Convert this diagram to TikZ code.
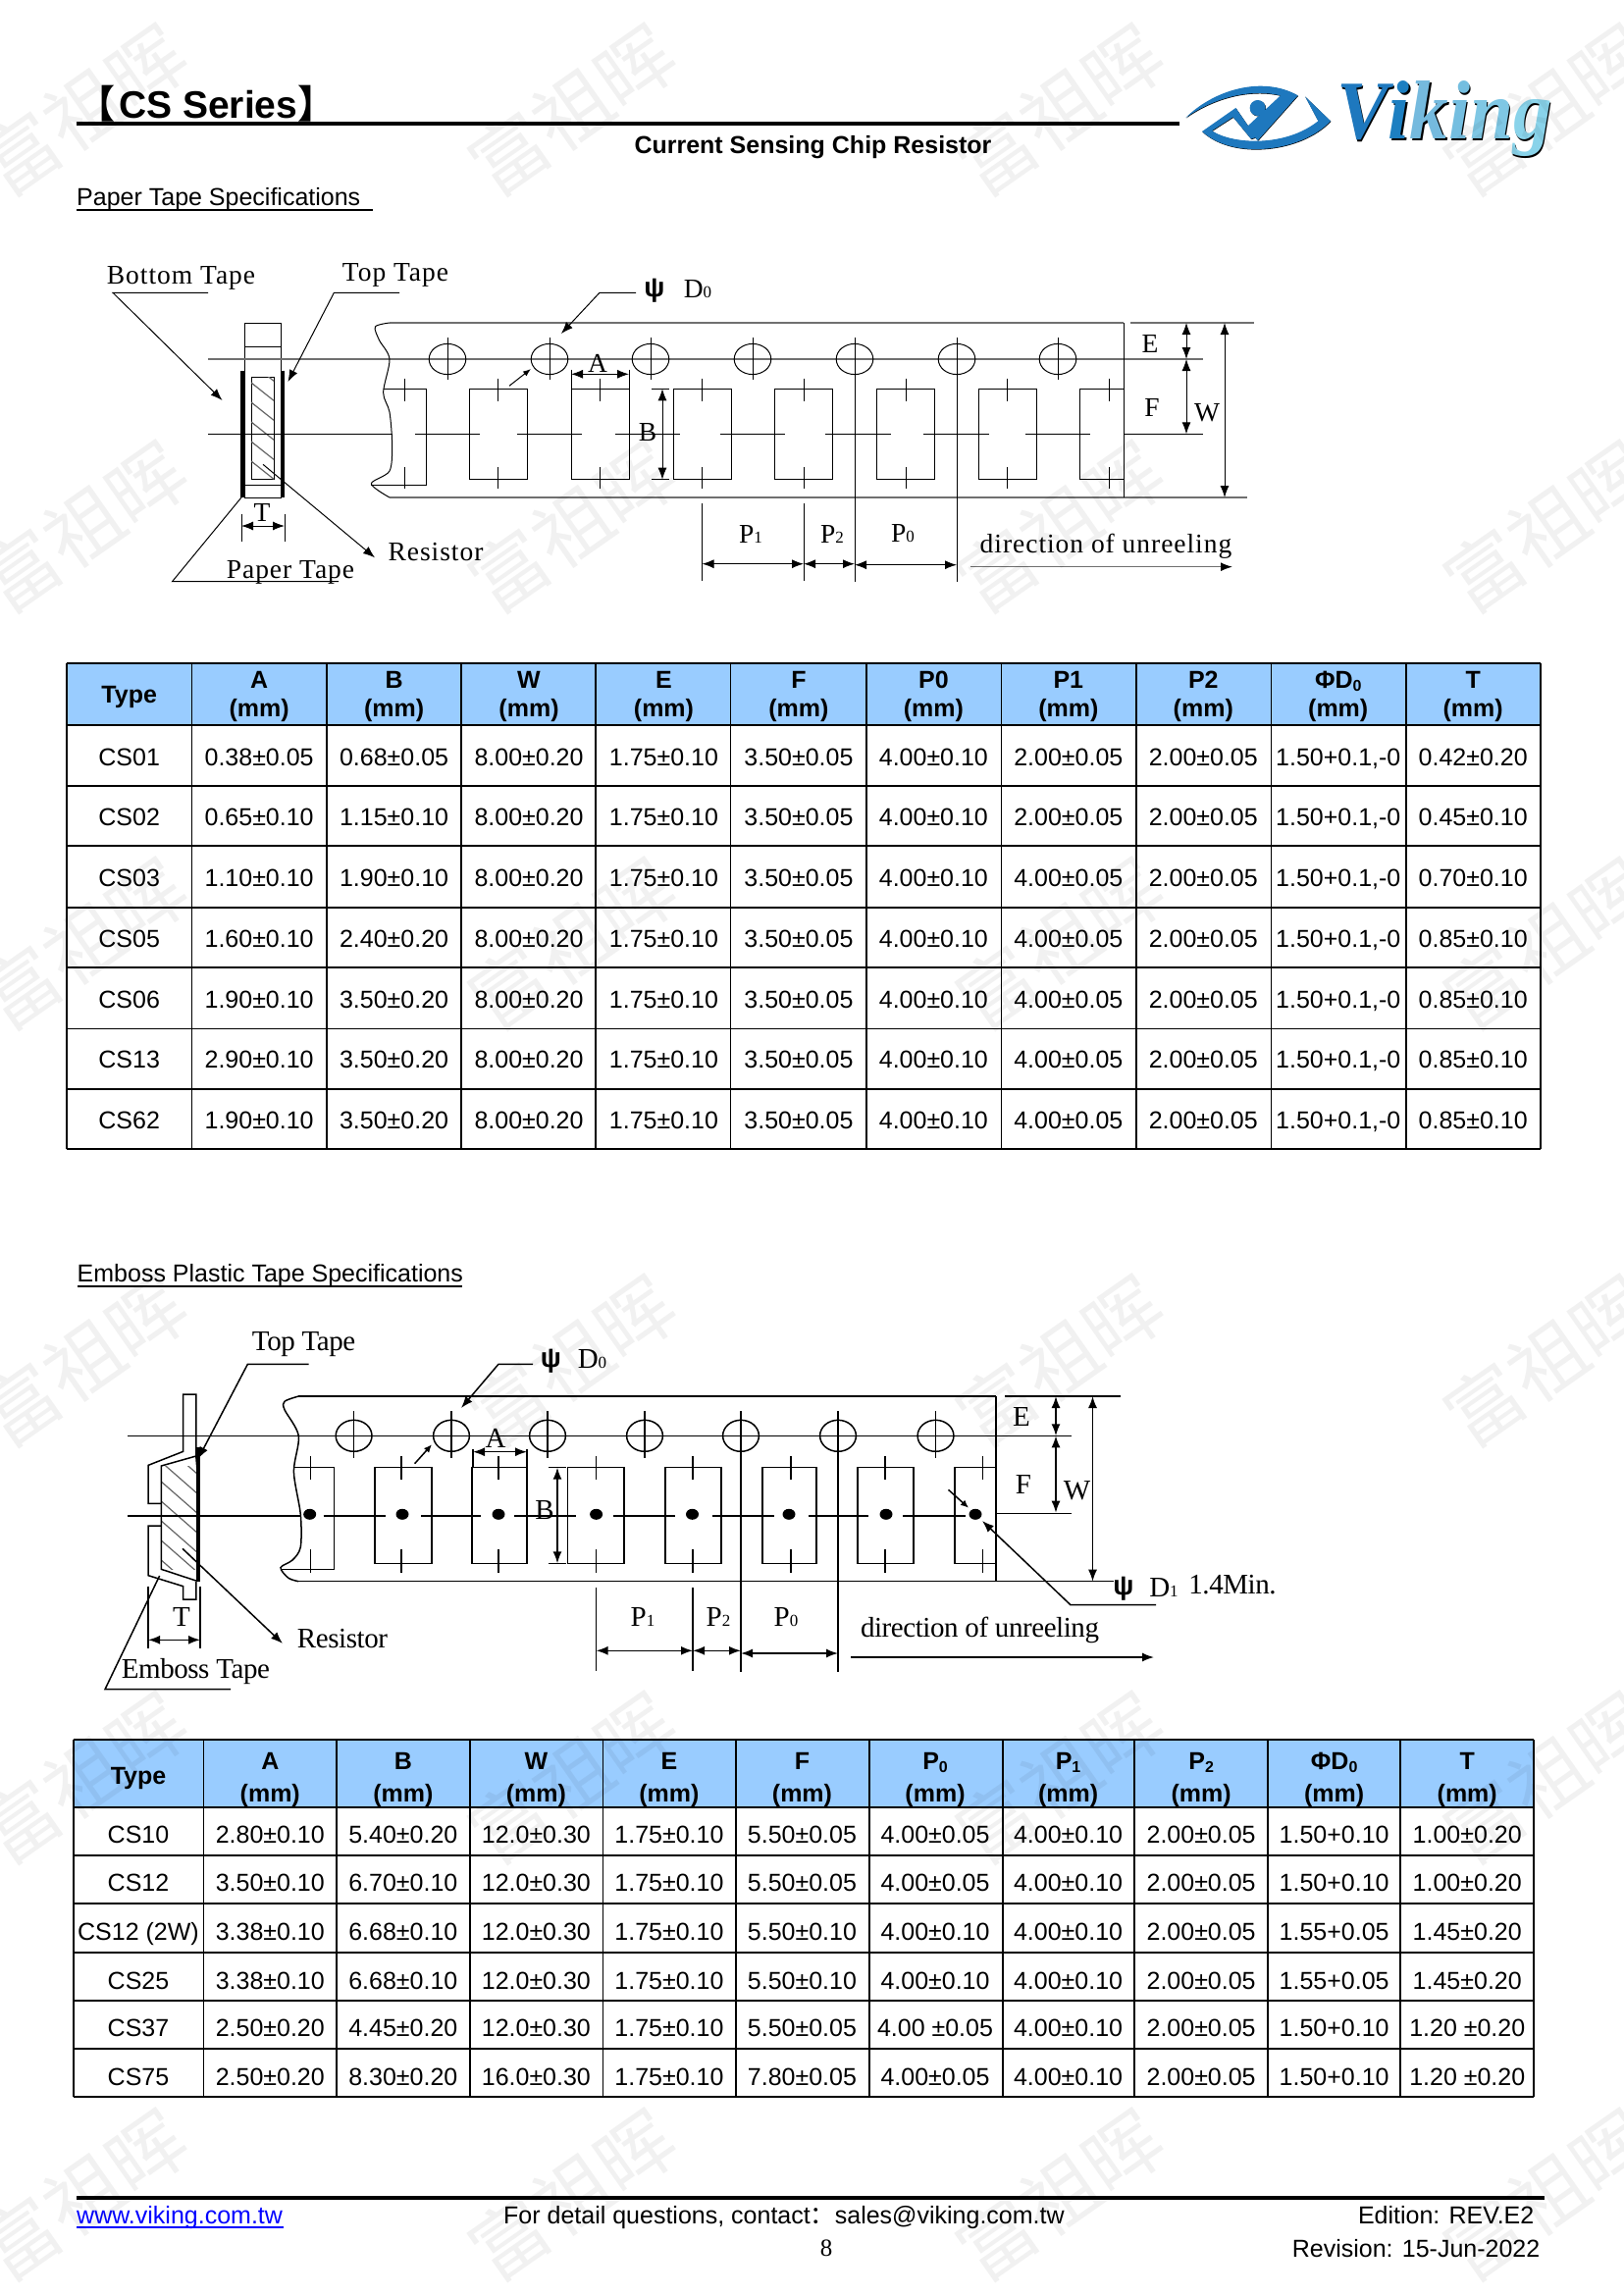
\documentclass[tikz,border=0pt]{standalone}
\usepackage{fontspec}
\setmainfont{Liberation Sans}
\newfontfamily\tapefont[LetterSpace=3.5]{Liberation Serif}
\newfontfamily\embossfont[LetterSpace=-1.5]{Liberation Serif}
\newfontfamily\logofont{Liberation Serif}
\newfontfamily\cjkfont{Noto Sans CJK SC}
\usetikzlibrary{arrows.meta}
\definecolor{headblue}{HTML}{99CCFF}
\definecolor{tapegray}{HTML}{707070}
\definecolor{logoblue}{HTML}{1E78BE}
\newcommand{\subd}[1]{{\fontsize{17}{17}\selectfont #1}}
\newcommand{\subh}[1]{\raisebox{-3pt}{\fontsize{16}{16}\selectfont #1}}
\newcommand{\vikingword}[6]{\textcolor{#1}{V}\textcolor{#2}{i}\textcolor{#3}{k}\textcolor{#4}{i}\textcolor{#5}{n}\textcolor{#6}{g}}
\tikzset{
  >={Latex[length=12pt,width=9pt]},
  every node/.style={inner sep=0pt},
  papertext/.style={font=\tapefont\fontsize{27.5}{30}\selectfont},
  embosstext/.style={font=\embossfont\fontsize{29}{30}\selectfont},
  psimark/.style={font=\bfseries\fontsize{28}{30}\selectfont},
  cellbody/.style={anchor=base,font=\fontsize{25}{30}\selectfont},
  cellhead/.style={align=center,font=\bfseries\fontsize{25}{29}\selectfont},
  cellheadb/.style={align=center,font=\bfseries\fontsize{25}{33}\selectfont},
  plaintext/.style={font=\fontsize{25}{30}\selectfont},
  tapeline/.style={draw=tapegray,line width=1.5pt},
  thinline/.style={draw=black,line width=1pt},
  embline/.style={draw=black,line width=1.5pt},
  hatchline/.style={draw=black!60,line width=1.2pt},
  rulebar/.style={draw=black,line width=4pt},
  tablegrid/.style={draw=black,line width=1.8pt},
}
\begin{document}
\begin{tikzpicture}[x=1pt,y=-1pt]
\useasboundingbox (0,0) rectangle (1654,2339);
\fill[white] (0,0) rectangle (1654,2339);

% page head
\node (series) [anchor=base west,font=\bfseries\fontsize{39}{39}\selectfont] at (78,121) {{\cjkfont\bfseries 【}\hspace{4pt}CS Series{\cjkfont\bfseries 】}};
\draw[rulebar] (78,126) -- (1202,126);
\node (subtitle) [font=\bfseries\fontsize{25}{30}\selectfont] at (828.5,150.5) {Current Sensing Chip Resistor};
\node (papertitle) [plaintext,anchor=base west] at (78,209) {Paper Tape Specifications};
\draw[line width=2pt] (78,213.5) -- (380,213.5);

% logo
\begin{scope}[shift={(1200,60)},x=.3333pt,y=-.3333pt]
\foreach \dx/\dy/\col in {4/5/black,0/0/logoblue}{
\begin{scope}[shift={(\dx*.3333,\dy*.3333)}]
\fill[\col] (25,180) .. controls (110,95) and (260,50) .. (368,112) -- (245,250) -- (212,208) -- (315,112) .. controls (220,90) and (110,120) .. (25,180) -- cycle;
\fill[\col] (75,222) -- (178,150) -- (240,240) -- (225,245) -- (170,178) -- (105,220) .. controls (170,262) and (330,270) .. (430,190) -- (390,115) -- (468,190) .. controls (380,285) and (170,310) .. (75,222) -- cycle;
\fill[\col] (245,150) circle[radius=24];
\end{scope}}
\end{scope}
\node (logoshadow) [anchor=base west,font=\logofont\bfseries\itshape\fontsize{85}{85}\selectfont] at (1363.5,143.5) {\scalebox{.93}[1]{\vikingword{black}{black}{black}{black}{black}{black}}};
\node (logotext) [anchor=base west,font=\logofont\bfseries\itshape\fontsize{85}{85}\selectfont] at (1362,142) {\scalebox{.93}[1]{\vikingword{logoblue}{logoblue!95!cyan}{logoblue!85!cyan!60!white}{logoblue!80!cyan!60!white}{logoblue!75!cyan!55!white}{logoblue!65!cyan!50!white}}};

% paper tape, side view
\draw[thinline] (249,329) rectangle (286.5,507);
\draw[thinline] (249,353.3) -- (286.5,353.3);
\draw[thinline] (249,494.7) -- (286.5,494.7);
\draw[thinline] (256,384.3) rectangle (279,488.7);
\begin{scope}
\clip (256,384.3) rectangle (279,488.7);
\foreach \hy in {350,370,...,490}
  \draw[hatchline] (256,\hy) -- (279,\hy+18.3);
\end{scope}
\draw[rulebar] (246.5,377.7) -- (246.5,507);
\draw[rulebar] (288,377.7) -- (288,507);

% paper tape, centre lines and outline
\draw[tapeline] (212,366) -- (1226,366);
\draw[thinline] (212,442.3) -- (399.6,442.3);
\draw[thinline] (1145,442.3) -- (1226,442.3);
\draw[tapeline] (397,329) -- (1145,329);
\draw[tapeline] (397,507) -- (1271,507);
\draw[tapeline] (1152,329) -- (1278,329);
\draw[thinline] (1145,329) -- (1145,507);
\draw[thinline] plot[smooth] coordinates {(397,329) (382.4,333) (386.5,346.7) (397,366) (390.6,400) (397,420) (399.6,453) (397,480) (378.4,493) (397,507)};

% paper tape, holes and pockets
\foreach \hx in {456,560,663,767,871,975,1078}{
  \draw[thinline] (\hx,366) ellipse[x radius=18.8,y radius=15.6];
  \draw[thinline] (\hx,344) -- (\hx,386.7);
}
\draw[thinline] (390.6,396.3) -- (434,396.3) -- (434,494.7) -- (378.4,494.7);
\draw[thinline] (1145,396.3) -- (1100,396.3) -- (1100,488.7) -- (1145,488.7);
\foreach \px in {478,582,686,789,893,997}
  \draw[thinline] (\px,396.3) rectangle (\px+59,488.7);
\foreach \px in {412,507,611.5,715.5,819,923,1026.5,1130}{
  \draw[thinline] (\px,385.7) -- (\px,409.3);
  \draw[thinline] (\px,476) -- (\px,498.3);
}
\foreach \dxa/\dxb in {423/489,527/593,627/693,734/800,841/908,941/1008,1045/1111}
  \draw[thinline] (\dxa,442.3) -- (\dxb,442.3);

% paper tape, dimensions
\draw[thinline] (871,344) -- (871,593.3);
\draw[thinline] (975,344) -- (975,593.3);
\draw[thinline] (715.5,513.3) -- (715.5,592);
\draw[thinline] (819,513.3) -- (819,592);
\draw[thinline,<->] (715.5,574.7) -- (819,574.7);
\draw[thinline,<->] (819,574.7) -- (871,574.7);
\draw[thinline,<->] (871,575.7) -- (975,575.7);
\draw[thinline,<->] (582,381.3) -- (641,381.3);
\draw[thinline] (582,376.7) -- (582,396.3);
\draw[thinline] (641,376.7) -- (641,396.3);
\draw[thinline,<->] (675,396.3) -- (675,488.7);
\draw[thinline] (664,396.3) -- (682,396.3);
\draw[thinline] (664,488.7) -- (682,488.7);
\draw[thinline,<->] (1209,329) -- (1209,366);
\draw[thinline,<->] (1209,366) -- (1209,442.3);
\draw[thinline,<->] (1248,329) -- (1248,507);
\draw[tapeline,-{Latex[length=12pt,width=9pt,black]}] (989,577.7) -- (1256,577.7);
\draw[thinline] (246,524) -- (246,551.7);
\draw[thinline] (290,524) -- (290,551.7);
\draw[thinline,<->] (246,536) -- (290,536);

% paper tape, labels and leaders
\node (bottomtape) [papertext] at (184.5,283) {Bottom Tape};
\node (toptape) [papertext] at (403,280.7) {Top Tape};
\node (papertape) [papertext] at (296,583) {Paper Tape};
\node (resistora) [papertext] at (444,562.7) {Resistor};
\node (psia) [psimark] at (667,296.7) {ψ};
\node (dzeroa) [papertext] at (711,295) {D\subd{0}};
\node (tipa) [papertext] at (609,370.7) {A};
\node (tipb) [papertext] at (660,441) {B};
\node (tipe) [papertext] at (1172,350) {E};
\node (tipf) [papertext] at (1174,415) {F};
\node (tipw) [papertext] at (1230,420.7) {W};
\node (tipt) [papertext] at (267,522.7) {T};
\node (pone) [papertext] at (765,544) {P\subd{1}};
\node (ptwo) [papertext] at (848,544) {P\subd{2}};
\node (pzero) [papertext] at (920,544) {P\subd{0}};
\node (unreel) [papertext] at (1127,556.3) {direction of unreeling};
\draw[thinline,->] (212,298.3) -- (115,298.3) -- (226.5,408);
\draw[thinline,->] (407,298.3) -- (340.4,298.3) -- (293.5,389);
\draw[thinline,->] (648,298.3) -- (611,298.3) -- (572,340);
\draw[thinline,->,>={Latex[length=8pt,width=6pt]}] (519,393.3) -- (541,376);
\draw[thinline] (246,507) -- (175.5,592.7) -- (345,592.7);
\draw[thinline,->] (268,473.3) -- (382,568.3);

% paper tape table
\fill[headblue] (68,675.7) rectangle (1570,738.7);
\foreach \lx in {68,195.4,332.6,469.8,607,744.5,883,1020.5,1158,1295.5,1433,1570}
  \draw[tablegrid] (\lx,675.7) -- (\lx,1171);
\foreach \ly in {675.7,738.7,801,862,924.7,986,1048.5,1110,1171}
  \draw[tablegrid] (68,\ly) -- (1570,\ly);
\node (phead1) [cellhead] at (131.7,710) {Type};
\foreach \v [count=\c from 2, evaluate=\c as \cx using {195.4+137.45*(\c-1.5)}] in {A,B,W,E,F,P0,P1,P2,ΦD\subh{0},T}
  \node (phead\c) [cellhead] at (\cx,710) {\v\\(mm)};
\foreach \r/\vals in {
  1/{CS01,0.38±0.05,0.68±0.05,8.00±0.20,1.75±0.10,3.50±0.05,4.00±0.10,2.00±0.05,2.00±0.05,{1.50+0.1,-0},0.42±0.20},
  2/{CS02,0.65±0.10,1.15±0.10,8.00±0.20,1.75±0.10,3.50±0.05,4.00±0.10,2.00±0.05,2.00±0.05,{1.50+0.1,-0},0.45±0.10},
  3/{CS03,1.10±0.10,1.90±0.10,8.00±0.20,1.75±0.10,3.50±0.05,4.00±0.10,4.00±0.05,2.00±0.05,{1.50+0.1,-0},0.70±0.10},
  4/{CS05,1.60±0.10,2.40±0.20,8.00±0.20,1.75±0.10,3.50±0.05,4.00±0.10,4.00±0.05,2.00±0.05,{1.50+0.1,-0},0.85±0.10},
  5/{CS06,1.90±0.10,3.50±0.20,8.00±0.20,1.75±0.10,3.50±0.05,4.00±0.10,4.00±0.05,2.00±0.05,{1.50+0.1,-0},0.85±0.10},
  6/{CS13,2.90±0.10,3.50±0.20,8.00±0.20,1.75±0.10,3.50±0.05,4.00±0.10,4.00±0.05,2.00±0.05,{1.50+0.1,-0},0.85±0.10},
  7/{CS62,1.90±0.10,3.50±0.20,8.00±0.20,1.75±0.10,3.50±0.05,4.00±0.10,4.00±0.05,2.00±0.05,{1.50+0.1,-0},0.85±0.10}}{
  \foreach \v [count=\c, evaluate=\c as \cx using {\c==1 ? 131.7 : 195.4+137.45*(\c-1.5)}] in \vals
    \node (pcell\r-\c) [cellbody] at (\cx,{738.7+61.76*(\r-.5)+10.5}) {\v};
}

% emboss tape
\node (embosstitle) [plaintext,anchor=base west] at (78.5,1306) {Emboss Plastic Tape Specifications};
\draw[line width=2pt] (79,1310.5) -- (471,1310.5);

% emboss tape, side view
\begin{scope}
\clip (164.3,1494) rectangle (202,1599.3);
\foreach \hy in {1450,1470,...,1610}
  \draw[hatchline] (164.3,\hy) -- (202,\hy+33);
\end{scope}
\draw[embline] (202,1511) -- (199.8,1484) -- (164.3,1494) -- (164.3,1599.3) -- (199.8,1611);
\draw[embline] (199.8,1484) -- (199.8,1421) -- (186.7,1421) -- (186.7,1479.3) -- (151.2,1493.3) -- (151.2,1532.3) -- (164.3,1532.3);
\draw[embline] (164.3,1555) -- (151.2,1555) -- (151.2,1605.7) -- (186.7,1616.7) -- (186.7,1630) -- (199.8,1630) -- (199.8,1611.7);
\draw[rulebar] (202,1475) -- (202,1612.3);

% emboss tape, centre lines and outline
\draw[embline] (130,1463.3) -- (1092,1463.3);
\draw[embline] (130,1545) -- (306.3,1545);
\draw[embline] (1015,1542.7) -- (1092,1542.7);
\draw[embline] (304.3,1423) -- (1015,1423);
\draw[embline] (304.3,1611.7) -- (1135,1611.7);
\draw[embline] (1024,1423) -- (1142,1423);
\draw[embline] (1015,1423) -- (1015,1611.7);
\draw[embline] plot[smooth] coordinates {(304.3,1423) (290,1428.3) (290,1436.7) (304.3,1463.3) (299.4,1500) (306.3,1543.3) (306.3,1576.7) (298,1590) (286,1597.7) (294,1608.3) (304.3,1611.7)};

% emboss tape, holes and pockets
\foreach \hx in {360.6,460,558,657,755,854,953.5}{
  \draw[embline] (\hx,1463.3) ellipse[x radius=18.4,y radius=16];
  \draw[embline] (\hx,1438.3) -- (\hx,1486);
}
\draw[embline] (299.4,1495.7) -- (340.6,1495.7) -- (340.6,1599.3) -- (286,1599.3);
\draw[embline] (1015,1495.7) -- (973,1495.7) -- (973,1593.3) -- (1015,1593.3);
\foreach \pa/\pb in {382/440,481/537,578.6/636,678/735,777/832,874/931}
  \draw[embline] (\pa,1495.7) rectangle (\pb,1593.3);
\foreach \px in {316.5,409,508,607.6,706,806,902,1001.6}{
  \draw[embline] (\px,1484) -- (\px,1507.7);
  \draw[embline] (\px,1579.3) -- (\px,1603.3);
}
\foreach \px in {315.7,410,508,607.6,705.5,804,903,994}
  \fill (\px,1543.3) ellipse[x radius=6.5,y radius=5.5];
\foreach \dxa/\dxb in {329.6/393,429/490,524/587,625/688,726/789,824/885,920/984}
  \draw[embline] (\dxa,1545) -- (\dxb,1545);

% emboss tape, dimensions
\draw[embline] (755,1438.3) -- (755,1704);
\draw[embline] (854,1438.3) -- (854,1704);
\draw[embline] (607.6,1618.3) -- (607.6,1702.7);
\draw[embline] (706,1618.3) -- (706,1702.7);
\draw[embline,<->] (607.6,1682.3) -- (706,1682.3);
\draw[embline,<->] (706,1682.3) -- (755,1682.3);
\draw[embline,<->] (755,1685) -- (854,1685);
\draw[embline,<->] (482,1479.7) -- (537,1479.7);
\draw[embline] (482,1476.7) -- (482,1495.7);
\draw[embline] (537,1476.7) -- (537,1495.7);
\draw[embline,<->] (568,1495.7) -- (568,1593.3);
\draw[embline] (559,1495.7) -- (576.5,1495.7);
\draw[embline] (559,1593.3) -- (576.5,1593.3);
\draw[embline,<->] (1076,1423) -- (1076,1463.3);
\draw[embline,<->] (1076,1463.3) -- (1076,1541.7);
\draw[embline,<->] (1113.5,1423) -- (1113.5,1611.7);
\draw[embline,->] (867,1689) -- (1176,1689);
\draw[embline] (151,1616.7) -- (151,1680);
\draw[embline] (204,1616.7) -- (204,1680);
\draw[embline,<->] (151,1671.3) -- (204,1671.3);

% emboss tape, labels and leaders
\node (toptapeb) [embosstext] at (309.6,1370.3) {Top Tape};
\node (embosstape) [embosstext] at (199.4,1704) {Emboss Tape};
\node (resistorb) [embosstext] at (349,1669.7) {Resistor};
\node (psib) [psimark] at (561.4,1387.3) {ψ};
\node (dzerob) [embosstext] at (603.5,1385) {D\subd{0}};
\node (psic) [psimark] at (1145,1619.3) {ψ};
\node (done) [embosstext] at (1186,1618.3) {D\subd{1}};
\node (minhole) [embosstext] at (1256,1615) {1.4Min.};
\node (tipab) [embosstext] at (505,1466) {A};
\node (tipbb) [embosstext] at (555,1539.3) {B};
\node (tipeb) [embosstext] at (1041,1444) {E};
\node (tipfb) [embosstext] at (1043,1512.7) {F};
\node (tipwb) [embosstext] at (1097.5,1519) {W};
\node (tiptb) [embosstext] at (185,1648.3) {T};
\node (poneb) [embosstext] at (655,1648.3) {P\subd{1}};
\node (ptwob) [embosstext] at (732,1648.3) {P\subd{2}};
\node (pzerob) [embosstext] at (801,1648.3) {P\subd{0}};
\node (unreelb) [embosstext] at (998.5,1661.3) {direction of unreeling};
\draw[embline,->] (314.5,1390.3) -- (252.4,1390.3) -- (202,1486.7);
\draw[embline,->] (543,1390.3) -- (508,1390.3) -- (470,1435);
\draw[embline,->,>={Latex[length=8pt,width=7pt]}] (422.6,1491.7) -- (440,1472.3);
\draw[embline,->,>={Latex[length=8pt,width=7pt]}] (966.5,1518.3) -- (987,1536.7);
\draw[embline,->] (1178,1635.7) -- (1091,1635.7) -- (1001,1550);
\draw[embline] (162.6,1606) -- (107,1721.7) -- (235,1721.7);
\draw[embline,->] (186,1578.3) -- (288,1675);

% emboss tape table
\fill[headblue] (74.6,1773) rectangle (1563,1842);
\foreach \lx in {74.6,207.5,343,479,614.5,750,886,1021.6,1156,1291.6,1427,1563}
  \draw[tablegrid] (\lx,1773) -- (\lx,2137);
\foreach \ly in {1773,1842,1891,1940,1990,2039,2088,2137}
  \draw[tablegrid] (74.6,\ly) -- (1563,\ly);
\node (ehead1) [cellheadb] at (141,1812) {Type};
\foreach \v [count=\c from 2, evaluate=\c as \cx using {207.5+135.55*(\c-1.5)}] in {A,B,W,E,F,P\subh{0},P\subh{1},P\subh{2},ΦD\subh{0},T}
  \node (ehead\c) [cellheadb] at (\cx,1813.5) {\v\\(mm)};
\foreach \r/\ry/\vals in {
  1/1878/{CS10,2.80±0.10,5.40±0.20,12.0±0.30,1.75±0.10,5.50±0.05,4.00±0.05,4.00±0.10,2.00±0.05,1.50+0.10,1.00±0.20},
  2/1927/{CS12,3.50±0.10,6.70±0.10,12.0±0.30,1.75±0.10,5.50±0.05,4.00±0.05,4.00±0.10,2.00±0.05,1.50+0.10,1.00±0.20},
  3/1977/{CS12 (2W),3.38±0.10,6.68±0.10,12.0±0.30,1.75±0.10,5.50±0.10,4.00±0.10,4.00±0.10,2.00±0.05,1.55+0.05,1.45±0.20},
  4/2027/{CS25,3.38±0.10,6.68±0.10,12.0±0.30,1.75±0.10,5.50±0.10,4.00±0.10,4.00±0.10,2.00±0.05,1.55+0.05,1.45±0.20},
  5/2075/{CS37,2.50±0.20,4.45±0.20,12.0±0.30,1.75±0.10,5.50±0.05,4.00 ±0.05,4.00±0.10,2.00±0.05,1.50+0.10,1.20 ±0.20},
  6/2125/{CS75,2.50±0.20,8.30±0.20,16.0±0.30,1.75±0.10,7.80±0.05,4.00±0.05,4.00±0.10,2.00±0.05,1.50+0.10,1.20 ±0.20}}{
  \foreach \v [count=\c, evaluate=\c as \cx using {\c==1 ? 141 : 207.5+135.55*(\c-1.5)}] in \vals
    \node (ecell\r-\c) [cellbody] at (\cx,\ry) {\v};
}

% page foot
\draw[rulebar] (78,2240) -- (1574,2240);
\node (website) [plaintext,anchor=base west,text=blue] at (78,2266) {www.viking.com.tw};
\draw[blue,line width=2pt] (78,2269.5) -- (289,2269.5);
\node (contact) [plaintext,anchor=base west] at (513,2266) {For detail questions, contact{\cjkfont ：}sales@viking.com.tw};
\node (pagenum) [anchor=base,font=\logofont\fontsize{25}{30}\selectfont] at (842,2299) {8};
\node (edition) [plaintext,anchor=base east] at (1563.5,2266) {Edition: REV.E2};
\node (revision) [plaintext,anchor=base east] at (1569.5,2300) {Revision: 15-Jun-2022};

% watermark
\foreach \wy in {112,537,962,1387,1812,2237}
  \foreach \wx in {85,583,1080,1577}
    \node (mark\wx-\wy) [rotate=35,opacity=.055,font=\cjkfont\fontsize{78}{78}\selectfont] at (\wx,\wy) {富祖晖};
\end{tikzpicture}
\end{document}
